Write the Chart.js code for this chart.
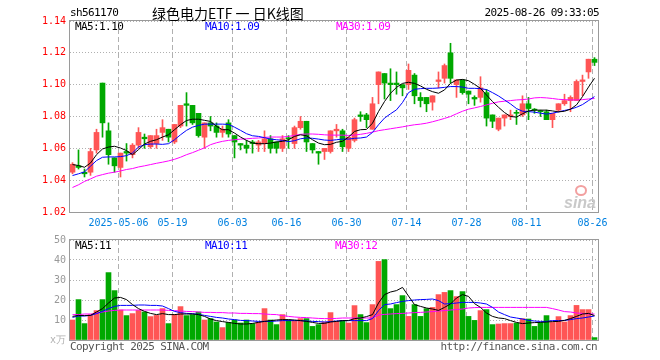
<!DOCTYPE html>
<html><head><meta charset="utf-8">
<script src="https://cdn.jsdelivr.net/npm/chart.js@4.4.1/dist/chart.umd.min.js"></script>
<style>
html,body{margin:0;padding:0;background:#fff;}
#wrap{position:relative;width:660px;height:360px;overflow:hidden;background:#fff;}
canvas{position:absolute;left:0;}
.t{position:absolute;font-family:'DejaVu Sans Mono',monospace;font-size:11px;letter-spacing:-0.6px;white-space:nowrap;line-height:12px;}
</style></head><body>
<div id="wrap">
<canvas id="k" width="660" height="232" style="top:0px"></canvas>
<canvas id="v" width="660" height="132" style="top:228px"></canvas>
<div class="t" id="code" style="left:70px;top:7px;color:#000"></div>
<div class="t" id="title" style="left:152px;top:4px;font-family:'Noto Sans CJK SC',sans-serif;font-size:14px;letter-spacing:0;line-height:18px;color:#000"></div>
<div class="t" id="stamp" style="right:61px;top:7px;color:#000"></div>
<div class="t" id="pm5" style="left:75px;top:21px;color:#000"></div>
<div class="t" id="pm10" style="left:205px;top:21px;color:#0000ff"></div>
<div class="t" id="pm30" style="left:336px;top:21px;color:#ff00ff"></div>
<div class="t" id="vm5" style="left:75px;top:240px;color:#000"></div>
<div class="t" id="vm10" style="left:205px;top:240px;color:#0000ff"></div>
<div class="t" id="vm30" style="left:335px;top:240px;color:#ff00ff"></div>
<div class="t" id="copy" style="left:70px;top:341px;color:#555"></div>
<div class="t" id="url" style="right:63px;top:341px;color:#555"></div>
<div style="position:absolute;left:575px;top:185px;width:8px;height:7px;border:2px solid #f2a0a0;border-radius:50%;"></div>
<div style="position:absolute;left:564px;top:194px;font:italic bold 16px 'Liberation Sans',sans-serif;color:#c9c9c9;">sina</div>
</div>
<script>
const headerCode = 'sh561170';
const headerTitle = '绿色电力ETF 一 日K线图';
const headerStamp = '2025-08-26 09:33:05';
const priceMaLabels = ['MA5:1.10','MA10:1.09','MA30:1.09'];
const volMaLabels = ['MA5:11','MA10:11','MA30:12'];
const footerLeft = 'Copyright 2025 SINA.COM';
const footerRight = 'http://finance.sina.com.cn';

const dates = ['2025-04-21','2025-04-22','2025-04-23','2025-04-24','2025-04-25','2025-04-28','2025-04-29','2025-04-30',
'2025-05-06','2025-05-07','2025-05-08','2025-05-09','2025-05-12','2025-05-13','2025-05-14','2025-05-15','2025-05-16','2025-05-19','2025-05-20','2025-05-21','2025-05-22','2025-05-23','2025-05-26','2025-05-27','2025-05-28','2025-05-29','2025-05-30',
'2025-06-03','2025-06-04','2025-06-05','2025-06-06','2025-06-09','2025-06-10','2025-06-11','2025-06-12','2025-06-13','2025-06-16','2025-06-17','2025-06-18','2025-06-19','2025-06-20','2025-06-23','2025-06-24','2025-06-25','2025-06-26','2025-06-27','2025-06-30',
'2025-07-01','2025-07-02','2025-07-03','2025-07-04','2025-07-07','2025-07-08','2025-07-09','2025-07-10','2025-07-11','2025-07-14','2025-07-15','2025-07-16','2025-07-17','2025-07-18','2025-07-21','2025-07-22','2025-07-23','2025-07-24','2025-07-25','2025-07-28','2025-07-29','2025-07-30','2025-07-31',
'2025-08-01','2025-08-04','2025-08-05','2025-08-06','2025-08-07','2025-08-08','2025-08-11','2025-08-12','2025-08-13','2025-08-14','2025-08-15','2025-08-18','2025-08-19','2025-08-20','2025-08-21','2025-08-22','2025-08-25','2025-08-26'];

const openP = [1.045,1.049,1.045,1.045,1.059,1.101,1.071,1.054,1.048,1.058,1.056,1.062,1.067,1.061,1.063,1.070,1.072,1.064,1.074,1.088,
1.087,1.082,1.067,1.076,1.074,1.070,1.076,1.068,1.063,1.062,1.064,1.062,1.063,1.066,1.064,1.060,1.066,1.063,1.073,1.077,
1.063,1.058,1.058,1.058,1.071,1.071,1.060,1.065,1.081,1.081,1.072,1.100,1.107,1.101,1.101,1.100,1.100,1.106,1.092,1.092,
1.089,1.102,1.104,1.120,1.100,1.103,1.096,1.092,1.092,1.095,1.081,1.072,1.079,1.080,1.082,1.081,1.088,1.084,1.083,1.083,
1.078,1.084,1.088,1.090,1.090,1.102,1.108,1.116];
const highP = [1.051,1.059,1.047,1.060,1.072,1.101,1.076,1.054,1.057,1.063,1.063,1.073,1.069,1.068,1.072,1.078,1.072,1.075,1.087,1.095,
1.087,1.082,1.076,1.080,1.076,1.074,1.078,1.068,1.063,1.065,1.065,1.065,1.071,1.068,1.064,1.068,1.068,1.074,1.080,1.077,
1.063,1.058,1.060,1.071,1.075,1.072,1.067,1.079,1.083,1.082,1.092,1.108,1.107,1.110,1.108,1.100,1.113,1.107,1.095,1.092,
1.093,1.108,1.113,1.126,1.103,1.103,1.096,1.093,1.105,1.097,1.081,1.079,1.081,1.084,1.084,1.093,1.092,1.085,1.084,1.084,
1.082,1.088,1.094,1.093,1.103,1.106,1.116,1.117];
const lowP = [1.044,1.047,1.042,1.043,1.057,1.067,1.050,1.045,1.042,1.052,1.054,1.060,1.060,1.060,1.060,1.065,1.064,1.063,1.073,1.074,
1.075,1.067,1.060,1.071,1.067,1.067,1.067,1.054,1.059,1.057,1.057,1.058,1.058,1.057,1.057,1.058,1.060,1.060,1.072,1.058,
1.057,1.050,1.053,1.057,1.067,1.058,1.058,1.064,1.077,1.073,1.072,1.088,1.091,1.090,1.094,1.093,1.097,1.088,1.086,1.083,
1.084,1.098,1.101,1.101,1.092,1.094,1.088,1.087,1.089,1.074,1.073,1.071,1.074,1.078,1.075,1.080,1.078,1.082,1.080,1.078,
1.073,1.083,1.087,1.083,1.090,1.093,1.104,1.112];
const closeP = [1.050,1.048,1.044,1.058,1.070,1.076,1.056,1.049,1.057,1.057,1.062,1.070,1.066,1.068,1.068,1.073,1.067,1.075,1.087,1.087,
1.076,1.068,1.076,1.074,1.070,1.072,1.069,1.064,1.062,1.060,1.063,1.064,1.066,1.060,1.060,1.066,1.066,1.073,1.077,1.064,
1.059,1.057,1.060,1.071,1.072,1.061,1.067,1.078,1.080,1.078,1.088,1.108,1.101,1.100,1.100,1.098,1.109,1.093,1.090,1.088,
1.093,1.103,1.112,1.104,1.103,1.095,1.094,1.091,1.098,1.079,1.077,1.079,1.081,1.081,1.082,1.088,1.085,1.084,1.083,1.078,
1.082,1.088,1.090,1.092,1.102,1.103,1.116,1.114];
const volume = [10.0,20.2,8.2,12.7,14.7,20.2,33.7,24.7,15.0,12.2,13.2,14.8,14.0,11.7,12.3,15.7,8.2,12.7,16.7,12.2,
12.7,14.0,10.0,10.7,9.0,6.2,8.8,10.0,8.5,10.0,8.2,9.0,15.7,10.0,7.7,12.7,10.0,9.7,10.7,10.7,
6.8,7.7,9.0,13.7,9.3,9.7,8.5,17.2,12.7,8.7,17.7,39.3,40.2,15.7,17.7,22.2,11.8,17.7,11.8,15.7,
16.3,22.7,23.8,24.7,21.7,24.2,11.8,9.8,14.7,15.2,7.7,8.0,8.2,8.2,8.5,10.7,10.5,6.8,8.7,12.2,
8.8,11.7,9.0,12.2,17.3,15.2,15.2,1.2];
const ma5 = [1.0498,1.0492,1.0481,1.0508,1.0560,1.0596,1.0608,1.0613,1.0602,1.0586,1.0560,1.0592,1.0627,1.0644,1.0654,1.0671,1.0685,1.0717,1.0748,1.0775,
1.0783,1.0783,1.0776,1.0769,1.0738,1.0717,1.0717,1.0696,1.0671,1.0650,1.0633,1.0629,1.0629,1.0633,1.0640,1.0644,1.0654,1.0675,1.0685,1.0679,
1.0654,1.0633,1.0623,1.0625,1.0638,1.0644,1.0671,1.0706,1.0717,1.0719,1.0758,1.0831,1.0894,1.0946,1.0983,1.1008,1.1015,1.1008,1.0992,1.0971,
1.0956,1.0946,1.0967,1.1008,1.1029,1.1033,1.1025,1.1002,1.0977,1.0935,1.0894,1.0858,1.0825,1.0800,1.0796,1.0817,1.0835,1.0840,1.0840,1.0840,
1.0835,1.0829,1.0833,1.0846,1.0873,1.0925,1.0985,1.1040];
const ma10 = [1.0429,1.0440,1.0452,1.0488,1.0523,1.0544,1.0546,1.0546,1.0548,1.0554,1.0571,1.0608,1.0623,1.0627,1.0627,1.0625,1.0629,1.0654,1.0685,1.0713,
1.0733,1.0744,1.0752,1.0752,1.0752,1.0752,1.0750,1.0733,1.0713,1.0692,1.0679,1.0675,1.0667,1.0658,1.0654,1.0650,1.0642,1.0648,1.0660,1.0665,
1.0663,1.0658,1.0652,1.0650,1.0654,1.0658,1.0658,1.0663,1.0665,1.0671,1.0700,1.0748,1.0790,1.0817,1.0842,1.0888,1.0950,1.0971,1.0975,1.0977,
1.0977,1.0979,1.0983,1.0988,1.0988,1.0985,1.0977,1.0977,1.0975,1.0969,1.0950,1.0929,1.0904,1.0879,1.0850,1.0833,1.0831,1.0827,1.0821,1.0815,
1.0821,1.0829,1.0838,1.0846,1.0858,1.0875,1.0900,1.0925];
const ma30 = [1.0354,1.0371,1.0392,1.0408,1.0425,1.0435,1.0444,1.0450,1.0458,1.0467,1.0473,1.0483,1.0490,1.0498,1.0506,1.0513,1.0521,1.0531,1.0544,1.0560,
1.0573,1.0588,1.0603,1.0623,1.0635,1.0644,1.0650,1.0654,1.0658,1.0660,1.0663,1.0665,1.0669,1.0671,1.0671,1.0671,1.0675,1.0681,1.0688,1.0690,
1.0690,1.0688,1.0685,1.0683,1.0683,1.0683,1.0681,1.0683,1.0688,1.0694,1.0702,1.0711,1.0717,1.0723,1.0729,1.0735,1.0742,1.0748,1.0752,1.0758,
1.0767,1.0777,1.0788,1.0800,1.0817,1.0833,1.0846,1.0854,1.0863,1.0873,1.0883,1.0892,1.0896,1.0900,1.0904,1.0906,1.0910,1.0917,1.0919,1.0917,
1.0913,1.0908,1.0906,1.0904,1.0904,1.0906,1.0910,1.0913];
const vma5 = [11.8,12.3,12.2,12.3,14.0,15.7,18.5,21.0,21.3,20.2,17.7,15.7,14.3,13.3,12.7,13.2,12.7,12.7,13.0,13.0,
13.0,12.7,11.8,10.5,9.7,9.2,8.8,8.3,8.0,8.0,8.3,8.8,9.3,9.7,10.0,10.2,10.2,10.0,9.7,9.3,
8.8,8.3,8.3,9.0,9.3,9.7,9.7,10.7,11.0,11.7,12.7,18.5,22.7,24.0,24.7,26.3,22.0,17.7,16.8,16.0,
15.5,14.8,16.3,18.0,21.0,22.7,21.8,18.2,16.3,13.5,11.8,11.0,10.7,9.7,8.8,8.2,8.5,8.7,8.8,9.0,
9.2,9.3,9.8,10.7,11.8,13.0,13.3,12.2];
const vma10 = [11.3,12.0,12.0,12.3,13.2,14.3,15.7,16.8,17.3,17.3,17.3,17.5,17.5,17.3,17.3,17.0,15.7,14.3,13.7,13.3,
13.2,12.8,12.3,11.8,11.3,11.0,10.5,10.2,9.8,9.7,9.5,9.3,9.3,9.3,9.5,9.7,9.7,9.7,9.7,9.5,
9.3,9.2,9.0,9.2,9.5,9.7,9.7,9.7,9.7,9.7,10.7,14.7,17.7,18.0,18.7,19.3,19.7,20.0,20.2,20.3,
20.5,19.7,18.0,18.2,18.5,18.8,18.8,18.8,18.5,18.0,16.3,14.0,12.7,11.5,11.0,10.5,9.8,9.5,9.3,9.3,
9.7,9.7,9.8,10.2,10.7,11.0,11.5,12.0];
const vma30 = [12.7,12.7,13.0,13.0,13.3,14.0,14.5,14.8,15.0,15.0,15.0,15.0,15.0,15.0,15.0,15.0,14.8,14.7,14.5,14.3,
14.2,14.0,13.8,13.8,13.7,13.7,13.5,13.5,13.3,13.3,13.2,13.2,13.0,12.8,12.7,12.2,11.8,11.5,11.3,11.2,
11.0,10.8,10.7,10.7,10.8,11.0,11.0,11.0,11.0,11.0,11.0,12.5,12.8,13.0,13.2,13.3,13.5,13.7,13.8,14.0,
14.2,14.5,14.7,15.0,15.2,15.5,16.0,16.2,16.3,16.3,16.3,16.3,16.3,16.3,16.3,16.3,16.3,16.3,16.3,16.3,
15.7,15.0,14.2,14.0,13.5,13.3,13.0,13.0];
const priceTicks = [1.02,1.04,1.06,1.08,1.10,1.12,1.14];
const volTicks = [0,10,20,30,40,50];
const volUnit = 'x万';
const tickDates = ['2025-05-06','2025-05-19','2025-06-03','2025-06-16','2025-06-30','2025-07-14','2025-07-28','2025-08-11','2025-08-26'];
const tickLabels = ['2025-05-06','05-19','06-03','06-16','06-30','07-14','07-28','08-11','08-26'];

document.getElementById('code').textContent = headerCode;
document.getElementById('title').textContent = headerTitle;
document.getElementById('stamp').textContent = headerStamp;
document.getElementById('pm5').textContent = priceMaLabels[0];
document.getElementById('pm10').textContent = priceMaLabels[1];
document.getElementById('pm30').textContent = priceMaLabels[2];
document.getElementById('vm5').textContent = volMaLabels[0];
document.getElementById('vm10').textContent = volMaLabels[1];
document.getElementById('vm30').textContent = volMaLabels[2];
document.getElementById('copy').textContent = footerLeft;
document.getElementById('url').textContent = footerRight;

const UP = '#ff5555', DOWN = '#00a800';
const isUp = closeP.map((c,i)=> c > openP[i]);
const candleColor = isUp.map(u => u ? UP : DOWN);
const tickPos = tickDates.map(d => dates.indexOf(d) - 1/3);
const MONO = "'DejaVu Sans Mono', monospace";
const xMin = -2.5/6, xMax = dates.length - 2.5/6;

const frame = {
  id: 'frame',
  afterDraw(c) {
    const a = c.chartArea, ctx = c.ctx;
    ctx.save();
    ctx.strokeStyle = '#9a9a9a';
    ctx.lineWidth = 1;
    ctx.strokeRect(a.left - 0.5, a.top - 0.5, a.right - a.left + 1, a.bottom - a.top + 1);
    ctx.restore();
  }
};

function xScale(showLabels) {
  return {
    type: 'linear', min: xMin, max: xMax, offset: false,
    afterBuildTicks: s => { s.ticks = tickPos.map(v => ({ value: v })); },
    afterFit: s => { s.height = 20; },
    grid: { color: '#b0b0b0', lineWidth: 1, drawTicks: false, offset: false },
    border: { display: false, dash: [5, 3] },
    ticks: {
      display: showLabels, autoSkip: false, maxRotation: 0, padding: 5,
      color: '#0080e0', font: { family: MONO, size: 10 },
      callback: (v, i) => tickLabels[i]
    }
  };
}
const lineDs = (arr, color) => ({
  type: 'line', data: arr.map((v,i)=>({x:i, y:v})), borderColor: color, borderWidth: 1,
  pointRadius: 0, tension: 0, order: 0, fill: false
});

new Chart(document.getElementById('k'), {
  type: 'bar',
  data: {
    datasets: [
      lineDs(ma5, '#000000'),
      lineDs(ma10, '#0000ff'),
      lineDs(ma30, '#ff00ff'),
      { type: 'bar', data: openP.map((o,i)=>({x:i, y:[Math.min(o,closeP[i]), Math.max(o,closeP[i])]})),
        backgroundColor: candleColor, borderWidth: 0, barThickness: 5, grouped: false, minBarLength: 1, order: 1 },
      { type: 'bar', data: lowP.map((l,i)=>({x:i, y:[l, highP[i]]})),
        backgroundColor: candleColor, borderWidth: 0, barThickness: 1, grouped: false, order: 2 }
    ]
  },
  options: {
    responsive: false, animation: false, events: [],
    layout: { padding: { left: 0, right: 62, top: 21, bottom: 0 } },
    plugins: { legend: { display: false }, tooltip: { enabled: false } },
    scales: {
      x: xScale(true),
      y: {
        type: 'linear', min: priceTicks[0], max: priceTicks[priceTicks.length-1],
        afterBuildTicks: s => { s.ticks = priceTicks.map(v => ({ value: v })); },
        afterFit: s => { s.width = 70; },
        grid: { color: '#b0b0b0', drawTicks: false },
        border: { display: false, dash: [1, 2] },
        ticks: { color: '#ff0000', padding: 4, font: { family: MONO, size: 10 }, callback: v => v.toFixed(2) }
      }
    }
  },
  plugins: [frame]
});

new Chart(document.getElementById('v'), {
  type: 'bar',
  data: {
    datasets: [
      lineDs(vma5, '#000000'),
      lineDs(vma10, '#0000ff'),
      lineDs(vma30, '#ff00ff'),
      { type: 'bar', data: volume.map((v,i)=>({x:i, y:v})),
        backgroundColor: candleColor, borderWidth: 0, barThickness: 5, grouped: false, order: 1 }
    ]
  },
  options: {
    responsive: false, animation: false, events: [],
    layout: { padding: { left: 0, right: 62, top: 12, bottom: 0 } },
    plugins: { legend: { display: false }, tooltip: { enabled: false } },
    scales: {
      x: xScale(false),
      y: {
        type: 'linear', min: volTicks[0], max: volTicks[volTicks.length-1],
        afterBuildTicks: s => { s.ticks = volTicks.map(v => ({ value: v })); },
        afterFit: s => { s.width = 70; },
        grid: { color: '#b0b0b0', drawTicks: false },
        border: { display: false, dash: [1, 2] },
        ticks: { color: c => c.tick && c.tick.value === 0 ? '#b0b0b0' : '#999999', padding: 4,
          font: { family: MONO, size: 10 }, callback: v => v === 0 ? volUnit : String(v) }
      }
    }
  },
  plugins: [frame]
});
</script>
</body></html>
